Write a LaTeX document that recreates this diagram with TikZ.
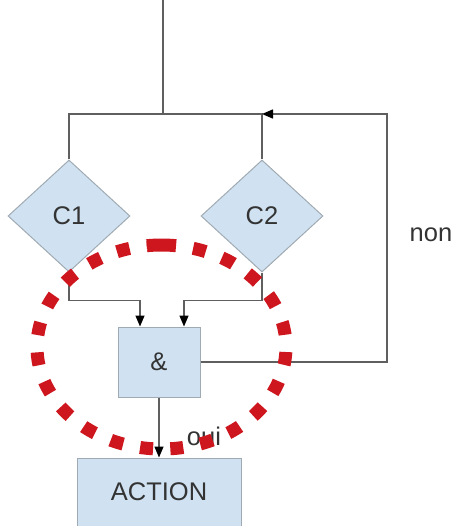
\documentclass[tikz,border=0pt]{standalone}
\usepackage{fontspec}
\setmainfont{Liberation Sans}
\usetikzlibrary{shapes.geometric,arrows.meta}
\definecolor{boxfill}{RGB}{208,226,242}
\definecolor{boxline}{RGB}{160,170,178}
\definecolor{wire}{RGB}{95,95,95}
\definecolor{dotred}{RGB}{205,22,30}
\begin{document}
\begin{tikzpicture}[x=1pt,y=-1pt,
  txt/.style={font=\fontsize{25.5}{28}\selectfont, text=black!80},
  dia/.style={diamond, draw=boxline, fill=boxfill, line width=1pt, inner sep=0pt,
    minimum width=122pt, minimum height=112pt, txt},
  rbox/.style={rectangle, draw=boxline, fill=boxfill, line width=1pt, inner sep=0pt, txt},
  wireline/.style={draw=wire, line width=1.4pt},
  arr/.style={wireline, -{Triangle[length=11pt,width=9pt,color=black]}},
  redring/.style={draw=dotred, line width=13pt, dash pattern=on 13pt off 17.3pt, dash phase=13pt},
  redcap/.style={draw=dotred, line width=13pt}
]
\useasboundingbox (0,0) rectangle (452,526);
\fill[white] (0,0) rectangle (452,526);

\node[dia] (c1) at (69,216) {C1};
\node[dia] (c2) at (262,216) {C2};
\node[rbox, minimum width=82pt, minimum height=70pt] (and) at (159,362) {\&};
\node[rbox, minimum width=164pt, minimum height=68pt] (action) at (159,492) {ACTION};

\coordinate (in) at (163,0);
\coordinate (join) at (163,114);
\coordinate (j2) at (262,114);
\coordinate (loop) at (387,114);
\coordinate (ringc) at (161.5,347);

\draw[wireline] (in) -- (join);
\draw[wireline] (c1.north) |- (j2) -- (c2.north);
\draw[arr] (and.east) -| (loop) -- (j2);
\draw[arr] (c1.south) -- ++(0,28) -| ([xshift=-19pt]and.north);
\draw[arr] (c2.south) -- ++(0,28) -| ([xshift=25pt]and.north);
\draw[arr] (and.south) -- (action.north);

\node[txt, anchor=base] (oui) at (204,445) {oui};
\node[txt, anchor=base] (non) at (431,241) {non};

\draw[redring] (ringc) ++(276.7:124.5 and 102) arc[start angle=276.7, end angle=623.3, x radius=124.5, y radius=102];
\draw[redcap] (ringc) ++(263.3:124.5 and 102) arc[start angle=263.3, end angle=276.7, x radius=124.5, y radius=102];
\end{tikzpicture}
\end{document}
